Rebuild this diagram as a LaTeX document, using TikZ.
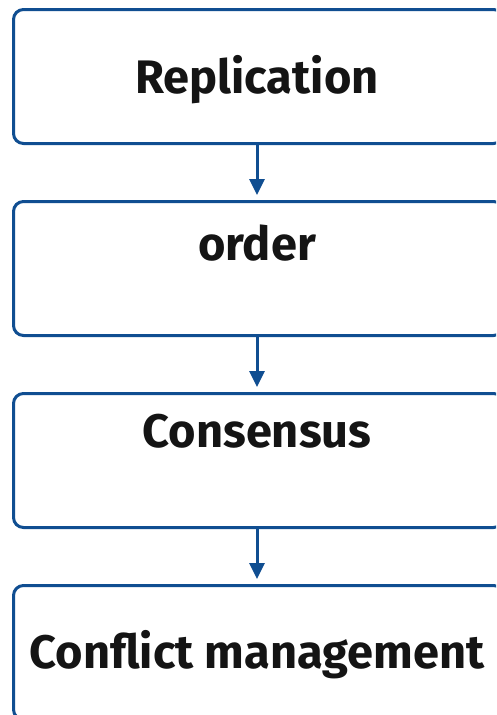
\documentclass[tikz,border=0pt]{standalone}
\usepackage{fontspec}
\setmainfont{Fira Sans}
\usetikzlibrary{arrows.meta}
\definecolor{boxblue}{RGB}{16,78,145}
\definecolor{txt}{RGB}{20,20,20}
\tikzset{
  stagebox/.style={draw=boxblue, line width=3pt, rounded corners=10pt, fill=white},
  label/.style={anchor=base, text=txt, font=\fontsize{47}{54}\selectfont\bfseries, inner sep=0pt},
  flow/.style={draw=boxblue, line width=3pt, -{Triangle[length=16pt,width=15pt]}, shorten >=5pt}
}
\begin{document}
\begin{tikzpicture}[x=1pt,y=-1pt]
\useasboundingbox (0,0) rectangle (496,715);
\begin{scope}
\clip (0,0) rectangle (496,715);
\node[stagebox, minimum width=490pt, minimum height=134pt, anchor=north west] (b1) at (12,8) {};
\node[stagebox, minimum width=490pt, minimum height=134pt, anchor=north west] (b2) at (12,200) {};
\node[stagebox, minimum width=490pt, minimum height=134pt, anchor=north west] (b3) at (12,392) {};
\node[stagebox, minimum width=490pt, minimum height=134pt, anchor=north west] (b4) at (12,584) {};
\end{scope}
\node[label] (t1) at (257,93) {Replication};
\node[label] (t2) at (257,260) {order};
\node[label] (t3) at (257,447) {Consensus};
\node[label] (t4) at (257,668) {Conflict management};
\coordinate (a1) at (257,142);
\coordinate (a2) at (257,334);
\coordinate (a3) at (257,526);
\draw[flow] (a1) -- (b2.north -| a1);
\draw[flow] (a2) -- (b3.north -| a2);
\draw[flow] (a3) -- (b4.north -| a3);
\end{tikzpicture}
\end{document}
